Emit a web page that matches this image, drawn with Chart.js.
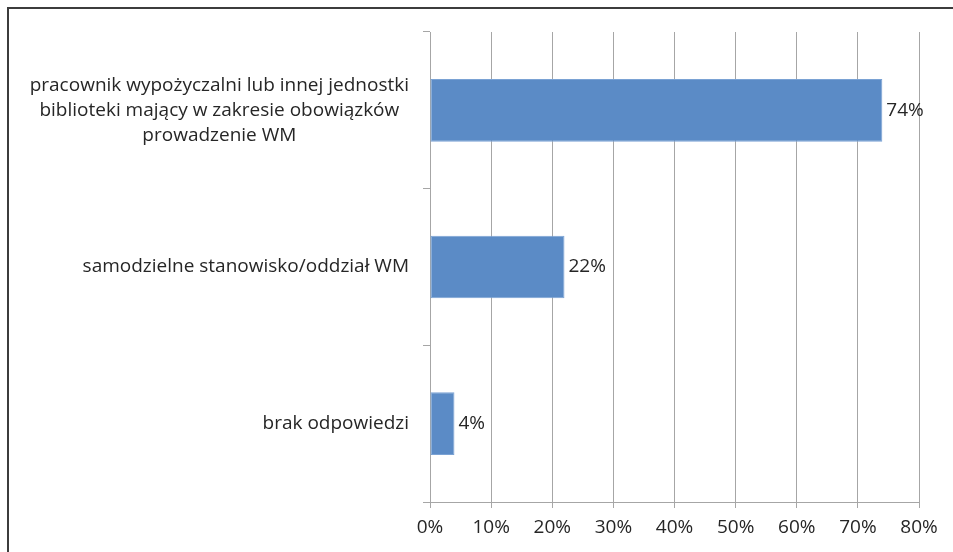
<!DOCTYPE html>
<html lang="pl">
<head>
    <meta charset="UTF-8">
    <title>Prowadzenie WM</title>
    <script src="https://cdn.jsdelivr.net/npm/chart.js"></script>
    <style>
        html, body {
            margin: 0;
            padding: 0;
            background: #ffffff;
            overflow: hidden;
        }

        .frame {
            position: absolute;
            left: 7px;
            top: 7px;
            width: 1000px;
            height: 600px;
            border: 2px solid #3c3c3c;
        }

        .wrap {
            position: absolute;
            left: 0;
            top: 0;
            width: 953px;
            height: 552px;
        }
    </style>
</head>
<body>
    <div class="frame"></div>
    <div class="wrap">
        <canvas id="chart" width="953" height="552"></canvas>
    </div>

    <script>
        const categories = [
            ['pracownik wypożyczalni lub innej jednostki', 'biblioteki mający w zakresie obowiązków', 'prowadzenie WM'],
            ['samodzielne stanowisko/oddział WM'],
            ['brak odpowiedzi']
        ];
        const values = [74, 22, 4];
        const xTicks = [0, 10, 20, 30, 40, 50, 60, 70, 80];

        const fontFamily = "'Open Sans', sans-serif";
        const textColor = '#262626';
        const gridColor = '#a6a6a6';

        // category labels: block right-aligned, lines centred inside the block (like Excel)
        const categoryLabels = {
            id: 'categoryLabels',
            afterDraw(chart) {
                const ctx = chart.ctx;
                const yScale = chart.scales.y;
                const right = yScale.right - 21;
                const lineHeight = 25;
                ctx.save();
                ctx.font = '19px ' + fontFamily;
                ctx.fillStyle = textColor;
                ctx.textBaseline = 'middle';
                ctx.textAlign = 'center';
                categories.forEach((lines, i) => {
                    const widths = lines.map(l => ctx.measureText(l).width);
                    const blockW = Math.max(...widths);
                    const cx = right - blockW / 2;
                    const cy = yScale.getPixelForValue(i);
                    const top = cy - (lines.length - 1) * lineHeight / 2;
                    lines.forEach((l, j) => ctx.fillText(l, cx, top + j * lineHeight));
                });
                ctx.restore();
            }
        };

        // value labels at the end of each bar
        const valueLabels = {
            id: 'valueLabels',
            afterDatasetsDraw(chart) {
                const ctx = chart.ctx;
                const meta = chart.getDatasetMeta(0);
                ctx.save();
                ctx.font = '19px ' + fontFamily;
                ctx.fillStyle = textColor;
                ctx.textBaseline = 'middle';
                ctx.textAlign = 'left';
                meta.data.forEach((bar, i) => {
                    ctx.fillText(values[i] + '%', bar.x + 4, bar.y);
                });
                ctx.restore();
            }
        };

        new Chart(document.getElementById('chart'), {
            type: 'bar',
            data: {
                labels: categories.map(c => c.join(' ')),
                datasets: [{
                    data: values,
                    backgroundColor: '#5b8bc6',
                    borderColor: '#7aa2d4',
                    borderWidth: 1,
                    borderSkipped: false,
                    barPercentage: 0.4,
                    categoryPercentage: 1
                }]
            },
            options: {
                indexAxis: 'y',
                responsive: false,
                animation: false,
                layout: {
                    padding: { top: 32, right: 34, left: 0, bottom: 0 }
                },
                plugins: {
                    legend: { display: false },
                    tooltip: { enabled: false }
                },
                scales: {
                    x: {
                        min: 0,
                        max: 80,
                        afterBuildTicks(scale) {
                            scale.ticks = xTicks.map(v => ({ value: v }));
                        },
                        afterFit(scale) {
                            scale.height = 50;
                        },
                        grid: {
                            color: gridColor,
                            lineWidth: 1,
                            tickLength: 6
                        },
                        border: { color: gridColor },
                        ticks: {
                            color: textColor,
                            font: { family: fontFamily, size: 19 },
                            padding: 8,
                            callback: v => v + '%'
                        }
                    },
                    y: {
                        afterFit(scale) {
                            scale.width = 430;
                        },
                        grid: {
                            color: gridColor,
                            drawOnChartArea: false,
                            tickLength: 7,
                            offset: true
                        },
                        border: { color: gridColor },
                        ticks: { display: false }
                    }
                }
            },
            plugins: [categoryLabels, valueLabels]
        });
    </script>
</body>
</html>
